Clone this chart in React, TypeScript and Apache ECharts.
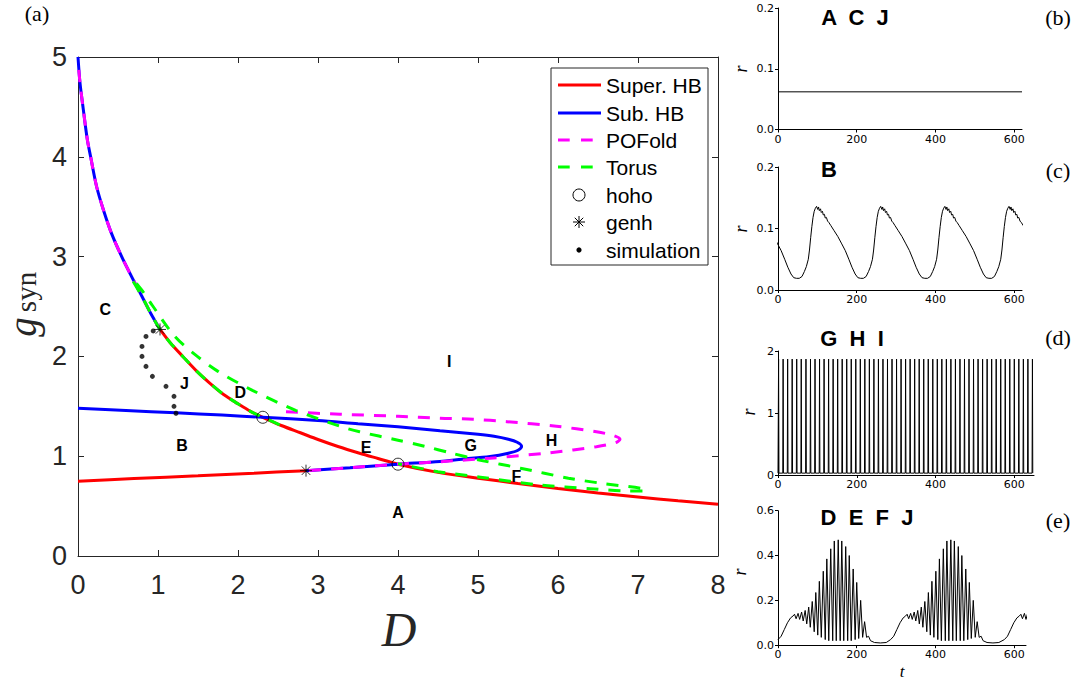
import React, { useEffect, useRef } from "react";
import * as echarts from "echarts";

// ---------- panel (a): bifurcation set in the (D, g_syn) plane ----------
const superHBLower: number[][] = [[0, 0.75], [0.7, 0.776], [1.5, 0.804], [2.2, 0.83], [2.85, 0.855]];
const superHBUpper: number[][] = [
  [1.025, 2.27], [1.15, 2.14], [1.31, 2.0], [1.48, 1.855], [1.65, 1.73], [1.82, 1.618], [2.0, 1.525],
  [2.15, 1.452], [2.31, 1.39], [2.55, 1.305], [2.78, 1.235], [3.0, 1.167], [3.25, 1.097], [3.52, 1.03],
  [3.75, 0.977], [4.0, 0.92], [4.5, 0.838], [5.0, 0.78], [5.5, 0.727], [6.0, 0.677], [6.5, 0.632],
  [7.0, 0.592], [7.5, 0.553], [8.0, 0.518],
];
const subHBUpper: number[][] = [
  [0, 5.0], [0.025, 4.74], [0.067, 4.47], [0.117, 4.17], [0.158, 4.0], [0.233, 3.7], [0.317, 3.47],
  [0.42, 3.23], [0.546, 3.0], [0.67, 2.8], [0.8, 2.6], [0.91, 2.43], [1.025, 2.27],
];
const subHBLoop: number[][] = [
  [0, 1.48], [0.6, 1.458], [1.225, 1.435], [1.8, 1.412], [2.31, 1.39], [3.0, 1.357], [3.5, 1.325],
  [4.0, 1.295], [4.525, 1.255], [5.0, 1.22], [5.2, 1.2], [5.38, 1.17], [5.49, 1.14], [5.545, 1.1],
  [5.5, 1.06], [5.38, 1.03], [5.15, 0.997], [4.8, 0.97], [4.525, 0.948], [4.0, 0.92], [3.4, 0.885],
  [2.85, 0.855],
];
const poFoldTop: number[][] = [
  [0.01, 4.87], [0.025, 4.74], [0.067, 4.47], [0.117, 4.17], [0.158, 4.0], [0.233, 3.7], [0.317, 3.47],
  [0.42, 3.23], [0.546, 3.0], [0.67, 2.8], [0.8, 2.6], [0.91, 2.43], [1.025, 2.27],
];
const poFoldLoop: number[][] = [
  [2.6, 1.445], [3.275, 1.42], [4.0, 1.4], [4.525, 1.38], [4.94, 1.37], [5.36, 1.346], [5.98, 1.3],
  [6.48, 1.245], [6.68, 1.21], [6.775, 1.17], [6.72, 1.135], [6.48, 1.095], [5.9, 1.035], [5.15, 0.98],
  [4.525, 0.945], [4.0, 0.92], [3.4, 0.885], [2.85, 0.855],
];
const torusOnHB: number[][] = [
  [0.69, 2.75], [0.8, 2.6], [0.91, 2.43], [1.025, 2.27], [1.15, 2.14], [1.31, 2.0], [1.48, 1.855],
  [1.65, 1.73], [1.82, 1.618], [2.0, 1.525], [2.15, 1.452], [2.31, 1.39], [2.55, 1.305],
];
const torusOuter: number[][] = [
  [0.73, 2.73], [0.82, 2.64], [0.93, 2.51], [1.21, 2.2], [1.46, 2.02], [1.75, 1.85], [2.18, 1.66],
  [2.72, 1.46], [3.275, 1.3], [3.52, 1.245], [4.0, 1.16], [4.33, 1.1], [4.67, 1.03], [5.03, 0.96],
  [5.53, 0.88], [6.13, 0.78], [6.53, 0.73], [7.03, 0.68], [7.1, 0.665], [7.07, 0.652], [6.86, 0.652],
  [6.4, 0.675], [5.78, 0.71], [5.03, 0.79], [4.5, 0.845], [4.0, 0.925],
];
const hohoPoints: number[][] = [[2.31, 1.39], [4.0, 0.92]];
const genhPoints: number[][] = [[1.025, 2.27], [2.85, 0.855]];
const simulationPoints: number[][] = [
  [0.94, 2.255], [0.85, 2.2], [0.8, 2.1], [0.8, 2.0], [0.85, 1.9], [0.93, 1.8], [1.1, 1.7],
  [1.2, 1.6], [1.2, 1.5], [1.225, 1.43],
];
const regionNames = ["C", "J", "D", "B", "E", "G", "H", "I", "F", "A"];
const regionD = [0.34, 1.33, 2.03, 1.3, 3.6, 4.91, 5.92, 4.64, 5.48, 4.0];
const regionG = [2.47, 1.73, 1.64, 1.11, 1.085, 1.11, 1.16, 1.95, 0.8, 0.44];

// ---------- panels (b)-(e): time series r(t) ----------
const restLevel = 0.062; // (b) A C J
// (c) B: one relaxation cycle, times measured from a trough
const bCycle: number[][] = [
  [0, 0.019], [7, 0.019], [14, 0.022], [20, 0.03], [25, 0.038], [30, 0.05], [33, 0.065], [36, 0.085],
  [39, 0.103], [42, 0.118], [45, 0.128], [48, 0.133], [51, 0.136], [54, 0.131], [56, 0.135], [58, 0.129],
  [61, 0.132], [63, 0.126], [66, 0.128], [68, 0.122], [71, 0.123], [73, 0.117], [76, 0.118], [79, 0.112],
  [82, 0.11], [87, 0.105], [95, 0.097], [105, 0.087], [115, 0.075], [124, 0.064], [133, 0.05],
  [141, 0.037], [149, 0.026], [156, 0.02],
];
const bTroughs = [-116, 47, 210, 373, 536];
// (d) G H I: spike train
const spikeTimes = [
  1.5, 13, 24.5, 36, 47.5, 59, 71, 82.5, 94, 105.5, 117, 128.5, 140, 151.5, 163, 174.5, 186, 197.5,
  209, 220.5, 232, 243.5, 255, 266.5, 278, 289.5, 301, 312.5, 324, 335.5, 347, 358.5, 370, 381.5, 393,
  404.5, 416, 427.5, 439, 450.5, 462, 473.5, 485, 496.5, 508, 519.5, 531, 542.5, 554, 565.5, 577, 588.5,
  600, 611.5, 623, 634.5, 646,
];
const spikePeak = 1.87;
const spikeBase = 0.03;
// (e) D E F J: one bursting episode, times measured from the start of the slow rise
const burstProfile: number[][] = [
  [0, 0.025], [8, 0.04], [16, 0.07], [24, 0.1], [32, 0.122], [38, 0.13],
  [42, 0.138], [46, 0.118], [51, 0.142], [55, 0.115], [60, 0.148], [64, 0.108], [69, 0.155], [73, 0.095],
  [78, 0.17], [82, 0.08], [87, 0.195], [92, 0.06], [96, 0.235], [101, 0.045], [105, 0.285], [110, 0.035],
  [115, 0.33], [120, 0.025], [124, 0.385], [129, 0.02], [134, 0.43], [139, 0.02], [143, 0.465], [148, 0.02],
  [153, 0.47], [158, 0.02], [162, 0.465], [167, 0.02], [172, 0.44], [177, 0.02], [181, 0.4], [186, 0.02],
  [191, 0.34], [196, 0.025], [200, 0.28], [205, 0.03], [210, 0.2], [215, 0.035], [220, 0.105], [225, 0.035],
  [230, 0.04], [235, 0.02], [245, 0.012], [260, 0.01], [275, 0.012],
];
const burstStarts = [0, 286, 575];

const AX = "#262626";
const SANS = "'Liberation Sans', Arial, Helvetica, sans-serif";
const SERIF = "'Liberation Serif', 'Times New Roman', serif";
const DEJAVU = "'DejaVu Sans', sans-serif";

const RED = "#ff0000";
const BLUE = "#0000ff";
const MAGENTA = "#ff00ff";
const GREEN = "#00ff00";
const DASH = [12, 10];

function shift(cycle: number[][], starts: number[]): number[][] {
  const out: number[][] = [];
  starts.forEach((s) => cycle.forEach(([t, r]) => out.push([s + t, r])));
  return out;
}

function spikeTrain(): number[][] {
  const out: number[][] = [[0, spikeBase]];
  spikeTimes.forEach((t) => {
    out.push([t - 0.9, spikeBase], [t, spikePeak], [t + 0.9, spikeBase]);
  });
  return out;
}

function mainX(position: "bottom" | "top", labels: boolean) {
  return {
    gridIndex: 0, type: "value", min: 0, max: 8, interval: 1, position,
    axisLine: { onZero: false, lineStyle: { color: AX, width: 1 } },
    axisTick: { inside: true, length: 6, lineStyle: { color: AX } },
    axisLabel: { show: labels, fontSize: 27, color: AX, fontFamily: SANS, margin: 15 },
    splitLine: { show: false },
  };
}
function mainY(position: "left" | "right", labels: boolean) {
  return {
    gridIndex: 0, type: "value", min: 0, max: 5, interval: 1, position,
    axisLine: { onZero: false, lineStyle: { color: AX, width: 1 } },
    axisTick: { inside: true, length: 6, lineStyle: { color: AX } },
    axisLabel: { show: labels, fontSize: 27, color: AX, fontFamily: SANS, margin: 11 },
    splitLine: { show: false },
  };
}
function smallX(grid: number, max: number) {
  return {
    gridIndex: grid, type: "value", min: 0, max, interval: 200,
    axisLine: { onZero: false, lineStyle: { color: "#000", width: 1 } },
    axisTick: { inside: false, length: 3, lineStyle: { color: "#000" } },
    axisLabel: { fontSize: 11, color: "#000", fontFamily: DEJAVU, margin: 4 },
    splitLine: { show: false },
  };
}
function smallY(grid: number, max: number, interval: number, digits: number) {
  return {
    gridIndex: grid, type: "value", min: 0, max, interval,
    axisLine: { onZero: false, lineStyle: { color: "#000", width: 1 } },
    axisTick: { inside: false, length: 3, lineStyle: { color: "#000" } },
    axisLabel: {
      fontSize: 11, color: "#000", fontFamily: DEJAVU, margin: 4,
      formatter: (v: number) => v.toFixed(digits),
    },
    splitLine: { show: false },
  };
}

function curve(data: number[][], color: string, dashed: boolean, z: number, name: string) {
  return {
    name, type: "line", xAxisIndex: 0, yAxisIndex: 0, data, showSymbol: false, symbol: "none",
    smooth: 0.3,
    lineStyle: { color, width: 3, type: dashed ? DASH : "solid", cap: "butt" },
    z, silent: true,
  };
}
// axis index 0/1 belong to panel (a); the time-series panels use 2..5
function trace(axis: number, data: number[][]) {
  return {
    type: "line", xAxisIndex: axis, yAxisIndex: axis, data, showSymbol: false, symbol: "none",
    lineStyle: { color: "#000", width: 1 }, clip: true, silent: true,
  };
}

const ASTERISK = "path://M6 0L6 12M0 6L12 6M1.76 1.76L10.24 10.24M1.76 10.24L10.24 1.76";

function buildOption() {
  const legendRows = [
    { label: "Super. HB", y: 85, kind: "solid", color: RED },
    { label: "Sub. HB", y: 113, kind: "solid", color: BLUE },
    { label: "POFold", y: 140, kind: "dash", color: MAGENTA },
    { label: "Torus", y: 167, kind: "dash", color: GREEN },
    { label: "hoho", y: 195, kind: "circle", color: "#000" },
    { label: "genh", y: 222, kind: "star", color: "#000" },
    { label: "simulation", y: 250, kind: "dot", color: "#000" },
  ];
  const legendChildren: any[] = [
    { type: "rect", shape: { x: 551, y: 68, width: 157, height: 197 }, style: { fill: "#fff", stroke: AX, lineWidth: 1 } },
  ];
  legendRows.forEach((r) => {
    if (r.kind === "solid") {
      legendChildren.push({ type: "line", shape: { x1: 558, y1: r.y, x2: 601, y2: r.y }, style: { stroke: r.color, lineWidth: 3 } });
    } else if (r.kind === "dash") {
      legendChildren.push({ type: "line", shape: { x1: 558, y1: r.y, x2: 593, y2: r.y }, style: { stroke: r.color, lineWidth: 3, lineDash: [11.7, 11.3] } });
    } else if (r.kind === "circle") {
      legendChildren.push({ type: "circle", shape: { cx: 579, cy: r.y, r: 6 }, style: { fill: "none", stroke: "#000", lineWidth: 1 } });
    } else if (r.kind === "star") {
      const a = 6, d = 4.24;
      [[0, -a, 0, a], [-a, 0, a, 0], [-d, -d, d, d], [-d, d, d, -d]].forEach(([x1, y1, x2, y2]) =>
        legendChildren.push({ type: "line", shape: { x1: 579 + x1, y1: r.y + y1, x2: 579 + x2, y2: r.y + y2 }, style: { stroke: "#000", lineWidth: 1 } })
      );
    } else {
      legendChildren.push({ type: "circle", shape: { cx: 579, cy: r.y, r: 2.6 }, style: { fill: "#000" } });
    }
    legendChildren.push({ type: "text", x: 606, y: r.y, style: { text: r.label, font: `21px ${SANS}`, fill: "#000", verticalAlign: "middle", align: "left" } });
  });

  const texts: any[] = [
    { type: "text", x: 37, y: 13, style: { text: "(a)", font: `22px ${SERIF}`, fill: "#000", align: "center", verticalAlign: "middle" } },
    { type: "text", x: 1058, y: 17, style: { text: "(b)", font: `22px ${SERIF}`, fill: "#000", align: "center", verticalAlign: "middle" } },
    { type: "text", x: 1058, y: 170, style: { text: "(c)", font: `22px ${SERIF}`, fill: "#000", align: "center", verticalAlign: "middle" } },
    { type: "text", x: 1058, y: 337, style: { text: "(d)", font: `22px ${SERIF}`, fill: "#000", align: "center", verticalAlign: "middle" } },
    { type: "text", x: 1058, y: 520, style: { text: "(e)", font: `22px ${SERIF}`, fill: "#000", align: "center", verticalAlign: "middle" } },
    { type: "text", x: 22, y: 327, rotation: Math.PI / 2, style: { text: "g", font: `italic 39px ${SERIF}`, fill: AX, align: "center", verticalAlign: "middle" } },
    { type: "text", x: 26, y: 292, rotation: Math.PI / 2, style: { text: "syn", font: `29px ${SERIF}`, fill: AX, align: "center", verticalAlign: "middle" } },
    { type: "text", x: 399, y: 629, style: { text: "D", font: `italic 48px ${SERIF}`, fill: AX, align: "center", verticalAlign: "middle" } },
    { type: "text", x: 902, y: 671, style: { text: "t", font: `italic 17px ${SERIF}`, fill: "#000", align: "center", verticalAlign: "middle" } },
    { type: "text", x: 855, y: 17, style: { text: "A  C  J", font: `bold 22px ${SANS}`, fill: "#000", align: "center", verticalAlign: "middle" } },
    { type: "text", x: 829, y: 169, style: { text: "B", font: `bold 22px ${SANS}`, fill: "#000", align: "center", verticalAlign: "middle" } },
    { type: "text", x: 852, y: 338, style: { text: "G  H  I", font: `bold 22px ${SANS}`, fill: "#000", align: "center", verticalAlign: "middle" } },
    { type: "text", x: 867, y: 517, style: { text: "D  E  F  J", font: `bold 22px ${SANS}`, fill: "#000", align: "center", verticalAlign: "middle" } },
  ];
  [[741, 69], [741, 229], [749, 412], [740, 572]].forEach(([x, y]) =>
    texts.push({ type: "text", x, y, rotation: Math.PI / 2, style: { text: "r", font: `italic 18px ${SERIF}`, fill: "#000", align: "center", verticalAlign: "middle" } })
  );

  return {
    animation: false,
    backgroundColor: "#fff",
    grid: [
      { left: 78, top: 57, width: 640, height: 499 },
      { left: 778, top: 8, width: 244, height: 121.5 },
      { left: 778, top: 167, width: 244, height: 123 },
      { left: 778, top: 351, width: 256, height: 124 },
      { left: 778, top: 510.7, width: 248, height: 134.5 },
    ],
    xAxis: [mainX("bottom", true), mainX("top", false), smallX(1, 620), smallX(2, 620), smallX(3, 650), smallX(4, 630)],
    yAxis: [mainY("left", true), mainY("right", false), smallY(1, 0.2, 0.1, 1), smallY(2, 0.2, 0.1, 1), smallY(3, 2, 1, 0), smallY(4, 0.6, 0.2, 1)],
    series: [
      curve(superHBLower, RED, false, 2, "Super. HB"),
      curve(superHBUpper, RED, false, 2, "Super. HB"),
      curve(subHBUpper, BLUE, false, 2, "Sub. HB"),
      curve(subHBLoop, BLUE, false, 2, "Sub. HB"),
      curve(poFoldTop, MAGENTA, true, 3, "POFold"),
      curve(poFoldLoop, MAGENTA, true, 3, "POFold"),
      curve(torusOnHB, GREEN, true, 4, "Torus"),
      curve(torusOuter, GREEN, true, 4, "Torus"),
      {
        name: "hoho", type: "scatter", xAxisIndex: 0, yAxisIndex: 0, data: hohoPoints, symbol: "circle", symbolSize: 12,
        itemStyle: { color: "rgba(0,0,0,0)", borderColor: "#000", borderWidth: 1 }, z: 6, silent: true,
      },
      {
        name: "genh", type: "scatter", xAxisIndex: 0, yAxisIndex: 0, data: genhPoints, symbol: ASTERISK, symbolSize: 12,
        itemStyle: { color: "rgba(0,0,0,0)", borderColor: "#000", borderWidth: 1 }, z: 6, silent: true,
      },
      {
        name: "simulation", type: "scatter", xAxisIndex: 0, yAxisIndex: 0, data: simulationPoints, symbol: "circle", symbolSize: 5,
        itemStyle: { color: "#000" }, z: 6, silent: true,
      },
      {
        // region letters, placed in data coordinates
        type: "custom", xAxisIndex: 0, yAxisIndex: 0, z: 7, silent: true,
        data: regionNames.map((n, i) => [regionD[i], regionG[i], i]),
        renderItem: (params: any, api: any) => {
          const p = api.coord([api.value(0), api.value(1)]);
          return {
            type: "text", x: p[0], y: p[1],
            style: {
              text: regionNames[api.value(2)], fontSize: 16, fontWeight: "bold", fontFamily: SANS,
              fill: "#000", align: "center", verticalAlign: "middle",
            },
          };
        },
      },
      trace(2, [[0, restLevel], [620, restLevel]]),
      trace(3, shift(bCycle, bTroughs)),
      trace(4, spikeTrain()),
      trace(5, shift(burstProfile, burstStarts)),
    ],
    graphic: [{ type: "group", children: legendChildren }, ...texts],
  };
}

export default function App() {
  const ref = useRef<HTMLDivElement>(null);
  useEffect(() => {
    if (!ref.current) return;
    const chart = echarts.init(ref.current, undefined, { renderer: "svg" });
    chart.setOption(buildOption() as any);
    return () => chart.dispose();
  }, []);
  return <div ref={ref} style={{ position: "fixed", left: 0, top: 0, width: 1080, height: 681, background: "#fff" }} />;
}
